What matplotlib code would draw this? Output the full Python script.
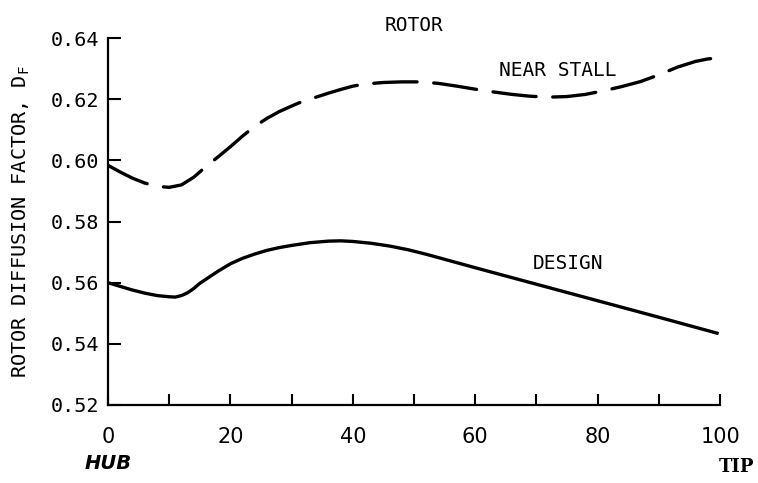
import numpy as np
import matplotlib
matplotlib.use('Agg')
import matplotlib.pyplot as plt

# percent span from hub to tip
span_stall = [0, 2, 4, 6, 8, 10, 12, 14, 16, 18, 20, 22, 24, 26, 28, 30,
              32, 34, 36, 38, 40, 42, 45, 48, 51, 54, 57, 60, 63, 66, 69,
              72, 75, 78, 81, 84, 87, 90, 93, 96, 98, 100]
df_stall = [0.5984, 0.5962, 0.5942, 0.5926, 0.5915, 0.5912, 0.5920, 0.5945,
            0.5980, 0.6012, 0.6045, 0.6080, 0.6112, 0.6138, 0.6160, 0.6178,
            0.6195, 0.6207, 0.6220, 0.6232, 0.6243, 0.6250, 0.6255, 0.6257,
            0.6257, 0.6252, 0.6243, 0.6233, 0.6224, 0.6216, 0.6210, 0.6207,
            0.6209, 0.6216, 0.6228, 0.6242, 0.6258, 0.6280, 0.6305, 0.6324,
            0.6332, 0.6336]

span_design = [0, 2, 4, 6, 8, 10, 11, 12, 13, 14, 15, 16.5, 18, 20, 22, 24,
               26, 28, 30, 33, 36, 38, 40, 43, 46, 49, 52, 60, 70, 80, 90,
               99.5]
df_design = [0.5600, 0.5588, 0.5576, 0.5566, 0.5558, 0.5554, 0.5553, 0.5558,
             0.5567, 0.5581, 0.5598, 0.5618, 0.5638, 0.5662, 0.5680, 0.5694,
             0.5706, 0.5715, 0.5722, 0.5731, 0.5736, 0.5737, 0.5735, 0.5729,
             0.5720, 0.5708, 0.5693, 0.5649, 0.5595, 0.5541, 0.5487, 0.5435]

mono = 'DejaVu Sans Mono'

fig = plt.figure(figsize=(7.58, 4.83), dpi=100)
ax = fig.add_axes([0.1425, 0.1615, 0.8075, 0.7595])

ax.plot(span_stall, df_stall, color='black', lw=2.4, dashes=(13, 5),
        dash_capstyle='round', solid_joinstyle='round')
ax.plot(span_design, df_design, color='black', lw=2.4,
        solid_joinstyle='round')

ax.set_xlim(0, 100)
ax.set_ylim(0.52, 0.64)
for s in ['top', 'right']:
    ax.spines[s].set_visible(False)
for s in ['left', 'bottom']:
    ax.spines[s].set_linewidth(1.6)

ax.set_xticks(np.arange(0, 101, 20))
ax.set_xticks(np.arange(10, 100, 20), minor=True)
ax.set_yticks(np.arange(0.52, 0.641, 0.02))
ax.set_yticklabels(['0.52', '0.54', '0.56', '0.58', '0.60', '0.62', '0.64'],
                   family=mono, fontsize=14.5)
ax.tick_params(axis='x', which='both', direction='in', length=8, width=1.5,
               pad=16, labelsize=15)
ax.tick_params(axis='y', direction='in', length=9, width=1.5, pad=6)

ax.set_ylabel('ROTOR DIFFUSION FACTOR, D$_\\mathregular{F}$', family=mono,
              fontsize=14.5, labelpad=14)

ax.text(50, 0.6442, 'ROTOR', family=mono, fontsize=14, ha='center',
        va='center', clip_on=False)
ax.text(73.4, 0.6295, 'NEAR STALL', family=mono, fontsize=14,
        ha='center', va='center')
ax.text(75.2, 0.5664, 'DESIGN', family=mono, fontsize=14, ha='center',
        va='center')

ax.annotate('HUB', xy=(0, 0), xycoords=('data', 'axes fraction'),
            xytext=(0, -42), textcoords='offset points', ha='center',
            va='center', family='DejaVu Sans', style='italic',
            fontweight='bold', fontsize=14)
ax.annotate('TIP', xy=(100, 0), xycoords=('data', 'axes fraction'),
            xytext=(12, -45), textcoords='offset points', ha='center',
            va='center', family='DejaVu Serif', fontweight='bold',
            fontsize=13)

fig.savefig('out.png', dpi=100)
